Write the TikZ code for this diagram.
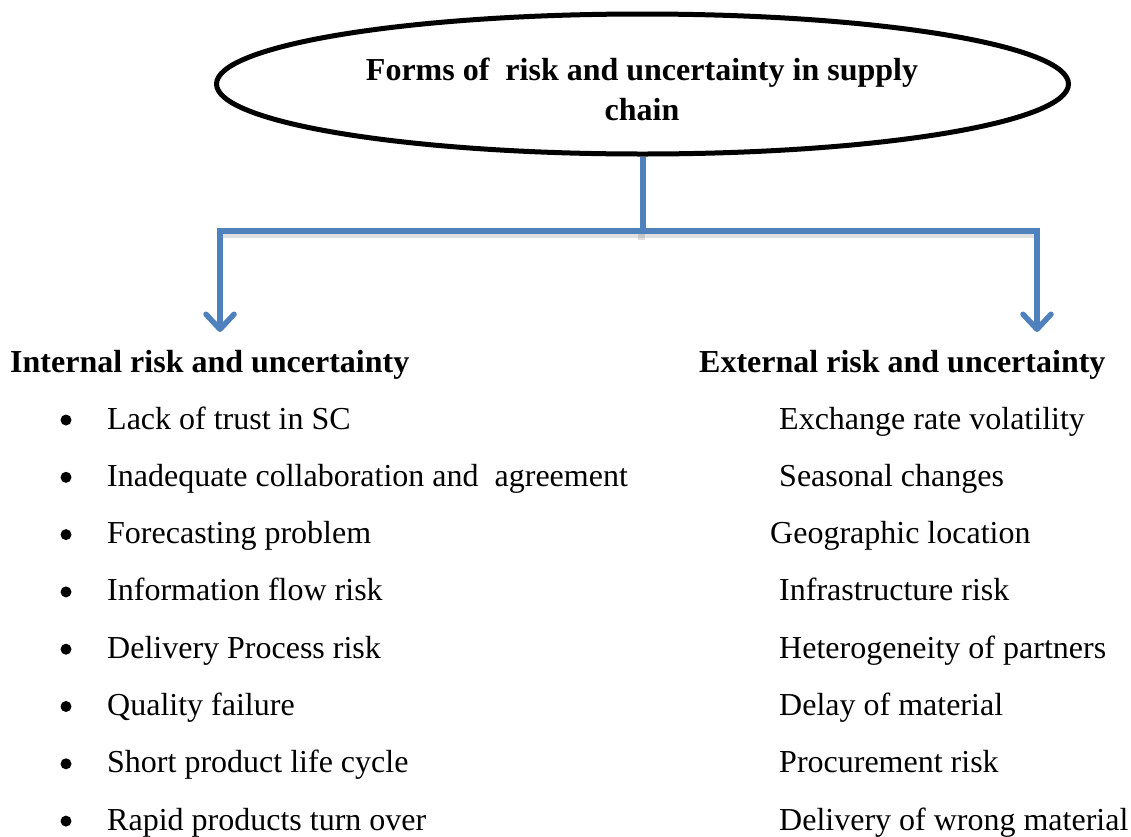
\documentclass[tikz,border=0pt]{standalone}
\usepackage{fontspec}
\setmainfont{Liberation Serif}
\usetikzlibrary{shapes.geometric,arrows.meta}
\definecolor{linkblue}{HTML}{4F81BD}
\tikzset{
  headtext/.style={anchor=base west,inner sep=0pt,font=\fontsize{32}{38}\selectfont\bfseries},
  itemtext/.style={anchor=base west,inner sep=0pt,font=\fontsize{32}{38}\selectfont},
  bulletdot/.style={circle,fill=black,inner sep=0pt,minimum size=11pt},
  link/.style={draw=linkblue,line width=5.5pt},
  linkshadow/.style={draw=black,opacity=0.12,line width=7pt},
  linkarrow/.style={-{Straight Barb[length=15pt,width=28pt,round]}}
}
\begin{document}
\begin{tikzpicture}[x=1pt,y=-1pt]
\useasboundingbox (0,0) rectangle (1131,836);

% title ellipse
\node[draw,ellipse,line width=5pt,minimum width=852pt,minimum height=140pt,inner sep=0pt] (title) at (642.5,84) {};
\node[align=center,inner sep=0pt,font=\fontsize{32}{40}\selectfont\bfseries] (titletext) at (642,89)
  {Forms of \ risk and uncertainty in supply\\chain};

% branching connector
\coordinate (split) at (643,231);
\coordinate (lsplit) at (220,231);
\coordinate (rsplit) at (1037,231);
\coordinate (lend) at (220,332);
\coordinate (rend) at (1037,332);

\draw[linkshadow] ([xshift=-1pt,yshift=-3pt]lsplit) -- ([xshift=-1pt,yshift=-3pt]rsplit);
\draw[linkshadow] ([xshift=-1.5pt,yshift=-3pt]split) -- ++(0,6);
\draw[link] (title.south -| split) -- (split);
\draw[link,line cap=rect] (lsplit) -- (rsplit);
\draw[link,linkarrow] (lsplit) -- (lend);
\draw[link,linkarrow] (rsplit) -- (rend);

% column headings
\node[headtext] (inth) at (10,372) {Internal risk and uncertainty};
\node[headtext] (exth) at (699,372) {External risk and uncertainty};

% internal items
\foreach \t [count=\i from 0] in {Lack of trust in SC,
  Inadequate collaboration and \ agreement,
  Forecasting problem,
  Information flow risk,
  Delivery Process risk,
  Quality failure,
  Short product life cycle,
  Rapid products turn over}{
  \node[bulletdot] (bul\i) at (66,420+57.3*\i) {};
  \node[itemtext] (int\i) at (107,429+57.3*\i) {\t};
}

% external items
\foreach \t/\x [count=\i from 0] in {Exchange rate volatility/779,
  Seasonal changes/779,
  Geographic location/770,
  Infrastructure risk/779,
  Heterogeneity of partners/779,
  Delay of material/779,
  Procurement risk/779,
  Delivery of wrong material/779}{
  \node[itemtext] (ext\i) at (\x,429+57.3*\i) {\t};
}
\end{tikzpicture}
\end{document}
